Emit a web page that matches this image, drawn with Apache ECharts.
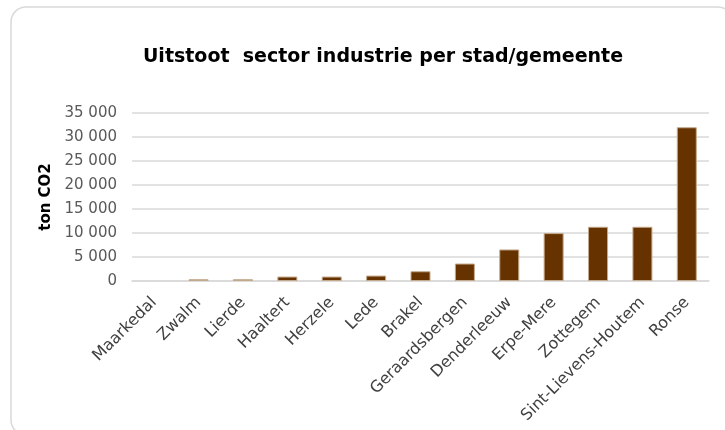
<!DOCTYPE html>
<html>
<head>
<meta charset="utf-8">
<script src="https://cdn.jsdelivr.net/npm/echarts@6/dist/echarts.min.js"></script>
<style>
  html, body { margin: 0; padding: 0; background: #ffffff; }
  #chart { width: 725px; height: 430px; }
</style>
</head>
<body>
<div id="chart"></div>
<script>
// Industrial CO2 emissions per municipality (ton CO2)
const gemeenten = ['Maarkedal', 'Zwalm', 'Lierde', 'Haaltert', 'Herzele', 'Lede', 'Brakel',
  'Geraardsbergen', 'Denderleeuw', 'Erpe-Mere', 'Zottegem', 'Sint-Lievens-Houtem', 'Ronse'];
const uitstoot = [0, 360, 360, 930, 930, 1130, 2030, 3640, 6570, 9980, 11300, 11300, 32030];
const yTicks = [0, 5000, 10000, 15000, 20000, 25000, 30000, 35000];

const font = 'DejaVu Sans';

// "35 000" style thousands separator
function fmt(v) {
  return String(v).replace(/\B(?=(\d{3})+(?!\d))/g, ' ');
}

// zero-height bars get no outline
const barData = uitstoot.map(v => v === 0 ? { value: v, itemStyle: { borderWidth: 0 } } : v);

const chart = echarts.init(document.getElementById('chart'), null, { renderer: 'canvas' });

chart.setOption({
  animation: false,
  backgroundColor: '#ffffff',
  graphic: [{
    // rounded card frame, running past the right and bottom edges
    type: 'rect',
    shape: { x: 11, y: 7, width: 722, height: 428, r: 15 },
    style: { fill: 'none', stroke: '#d9d9d9', lineWidth: 1.5 },
    silent: true,
    z: -10
  }],
  title: {
    text: 'Uitstoot  sector industrie per stad/gemeente',
    left: 378,
    top: 43,
    textAlign: 'center',
    textStyle: { fontFamily: font, fontWeight: 'bold', fontSize: 19, color: '#000000' }
  },
  grid: { left: 132, right: 16, top: 113, bottom: 149 },
  xAxis: {
    type: 'category',
    data: gemeenten,
    axisLine: { show: true, lineStyle: { color: '#d9d9d9', width: 1.5 } },
    axisTick: { show: false },
    axisLabel: {
      interval: 0,
      rotate: 45,
      margin: 19,
      fontFamily: font,
      fontSize: 16,
      color: '#404040'
    }
  },
  yAxis: {
    type: 'value',
    min: yTicks[0],
    max: yTicks[yTicks.length - 1],
    interval: yTicks[1] - yTicks[0],
    name: 'ton CO2',
    nameLocation: 'middle',
    nameGap: 78,
    nameRotate: 90,
    nameTextStyle: { fontFamily: font, fontWeight: 'bold', fontSize: 15, color: '#000000' },
    axisLine: { show: false },
    axisTick: { show: false },
    splitLine: { lineStyle: { color: '#d9d9d9', width: 1.5 } },
    axisLabel: {
      margin: 15,
      fontFamily: font,
      fontSize: 15,
      color: '#595959',
      formatter: fmt
    }
  },
  series: [{
    type: 'bar',
    data: barData,
    barWidth: 20,
    itemStyle: { color: '#663300', borderColor: '#c4a98c', borderWidth: 1 }
  }]
});
</script>
</body>
</html>
